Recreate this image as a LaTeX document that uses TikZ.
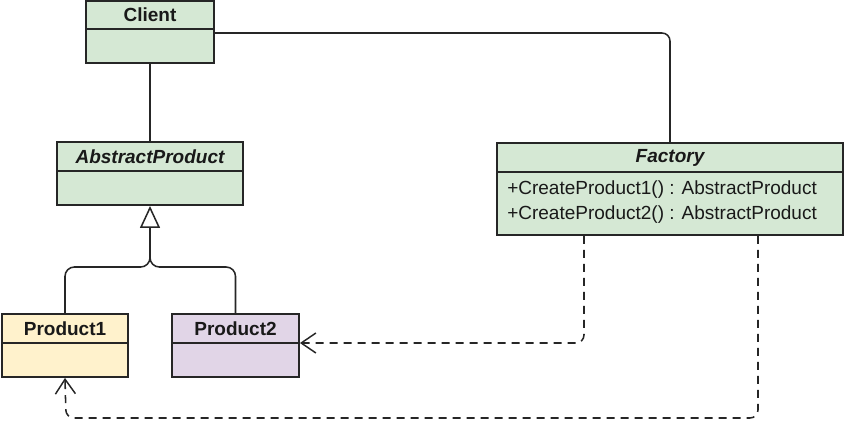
\documentclass[tikz,border=0pt]{standalone}
\usepackage{fontspec}
\setmainfont{Liberation Sans}
\usetikzlibrary{arrows.meta}
\definecolor{clsgreen}{HTML}{D5E8D4}
\definecolor{clsyellow}{HTML}{FFF2CC}
\definecolor{clspurple}{HTML}{E1D5E7}
\definecolor{edge}{HTML}{262626}
\begin{document}
\begin{tikzpicture}[x=0.75pt,y=-0.75pt,
  classbox/.style={draw=edge,line width=1.4pt,rectangle,inner sep=0pt},
  title/.style={font=\fontsize{14.25}{17}\selectfont\bfseries,text=black!90,inner sep=0pt},
  ititle/.style={title,font=\fontsize{14.25}{17}\selectfont\bfseries\itshape},
  method/.style={font=\fontsize{14.25}{17}\selectfont,text=black!90,inner sep=0pt,anchor=west},
  divider/.style={draw=edge,line width=1.2pt},
  assoc/.style={draw=edge,line width=1.15pt,rounded corners=6pt},
  dep/.style={draw=edge,line width=1.15pt,rounded corners=6pt,dash pattern=on 6pt off 4.5pt,
    -{Straight Barb[length=11pt,width=15pt,line width=1.1pt]}},
  inherit/.style={draw=edge,line width=1.15pt,rounded corners=7pt}
]
\useasboundingbox (0,0) rectangle (846,421);

% Classes
\node[classbox,fill=clsgreen,minimum width=96pt,minimum height=46.5pt] (client) at (150,32) {};
\node[title] (clientT) at (150,15) {Client};
\draw[divider] (client.west |- 0,29) -- (client.east |- 0,29);

\node[classbox,fill=clsgreen,minimum width=139.5pt,minimum height=47.25pt] (ap) at (150,173.5) {};
\node[ititle] (apT) at (150,156.5) {AbstractProduct};
\draw[divider] (ap.west |- 0,171) -- (ap.east |- 0,171);

\node[classbox,fill=clsgreen,minimum width=259.5pt,minimum height=69pt] (factory) at (670,189) {};
\node[ititle] (factoryT) at (670,157.5) {Factory};
\draw[divider] (factory.west |- 0,172) -- (factory.east |- 0,172);
\node[method] (m1) at (507,190) {+CreateProduct1() : AbstractProduct};
\node[method] (m2) at (507,215) {+CreateProduct2() : AbstractProduct};

\node[classbox,fill=clsyellow,minimum width=94.5pt,minimum height=47.25pt] (p1) at (65,345.5) {};
\node[title] (p1T) at (65,328.5) {Product1};
\draw[divider] (p1.west |- 0,343) -- (p1.east |- 0,343);

\node[classbox,fill=clspurple,minimum width=95.25pt,minimum height=47.25pt] (p2) at (235.5,345.5) {};
\node[title] (p2T) at (235.5,328.5) {Product2};
\draw[divider] (p2.west |- 0,343) -- (p2.east |- 0,343);

% Associations
\draw[assoc] (client.south) -- (ap.north);
\draw[assoc] (client.east |- 0,33) -| (factory.north);

% Inheritance
\coordinate (join) at (150,267);
\draw[inherit] (p1.north) |- (join) -- (150,228);
\draw[inherit] (p2.north) |- (join) -- (150,228);
\draw[draw=edge,line width=1.15pt,-{Triangle[open,length=16.5pt,width=15pt,fill=white]}] (150,229) -- (ap.south);

% Dependencies
\draw[dep] (factory.south -| 584,0) |- (p2.east |- 0,343);
\draw[dep] (factory.south -| 758,0) |- (66,418) -- (p1.south);
\end{tikzpicture}
\end{document}
